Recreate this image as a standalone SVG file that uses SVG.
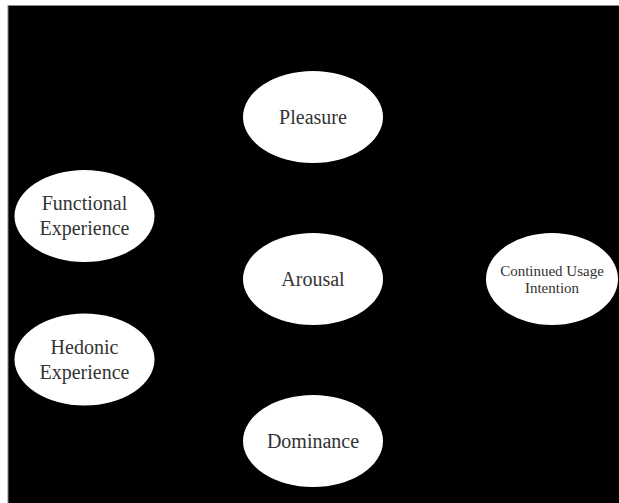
<svg xmlns="http://www.w3.org/2000/svg" width="619" height="503" viewBox="0 0 619 503">
<style>
.node ellipse{fill:#fff;stroke:none}
.node text{font-family:"Liberation Serif","Times New Roman",serif;font-size:20px;fill:#333;text-anchor:middle}
.node text.small{font-size:15px}
</style>
<rect x="0" y="0" width="619" height="503" fill="#fff"/>
<rect x="8" y="5.5" width="612" height="499" fill="#000" stroke="#888" stroke-width="1"/>
<g id="connectors"></g>
<g id="pleasure" class="node"><ellipse cx="313" cy="117" rx="70" ry="46"/><text x="313" y="124">Pleasure</text></g>
<g id="functional" class="node"><ellipse cx="84.5" cy="216" rx="70" ry="46"/><text x="84.5" y="210">Functional</text><text x="84.5" y="235">Experience</text></g>
<g id="arousal" class="node"><ellipse cx="313" cy="279" rx="70" ry="46"/><text x="313" y="286">Arousal</text></g>
<g id="continued" class="node"><ellipse cx="552" cy="279" rx="66" ry="46"/><text class="small" x="552" y="276">Continued Usage</text><text class="small" x="552" y="293">Intention</text></g>
<g id="hedonic" class="node"><ellipse cx="84.5" cy="359.5" rx="70" ry="46"/><text x="84.5" y="354">Hedonic</text><text x="84.5" y="379">Experience</text></g>
<g id="dominance" class="node"><ellipse cx="313" cy="441" rx="70" ry="46"/><text x="313" y="448">Dominance</text></g>
</svg>
